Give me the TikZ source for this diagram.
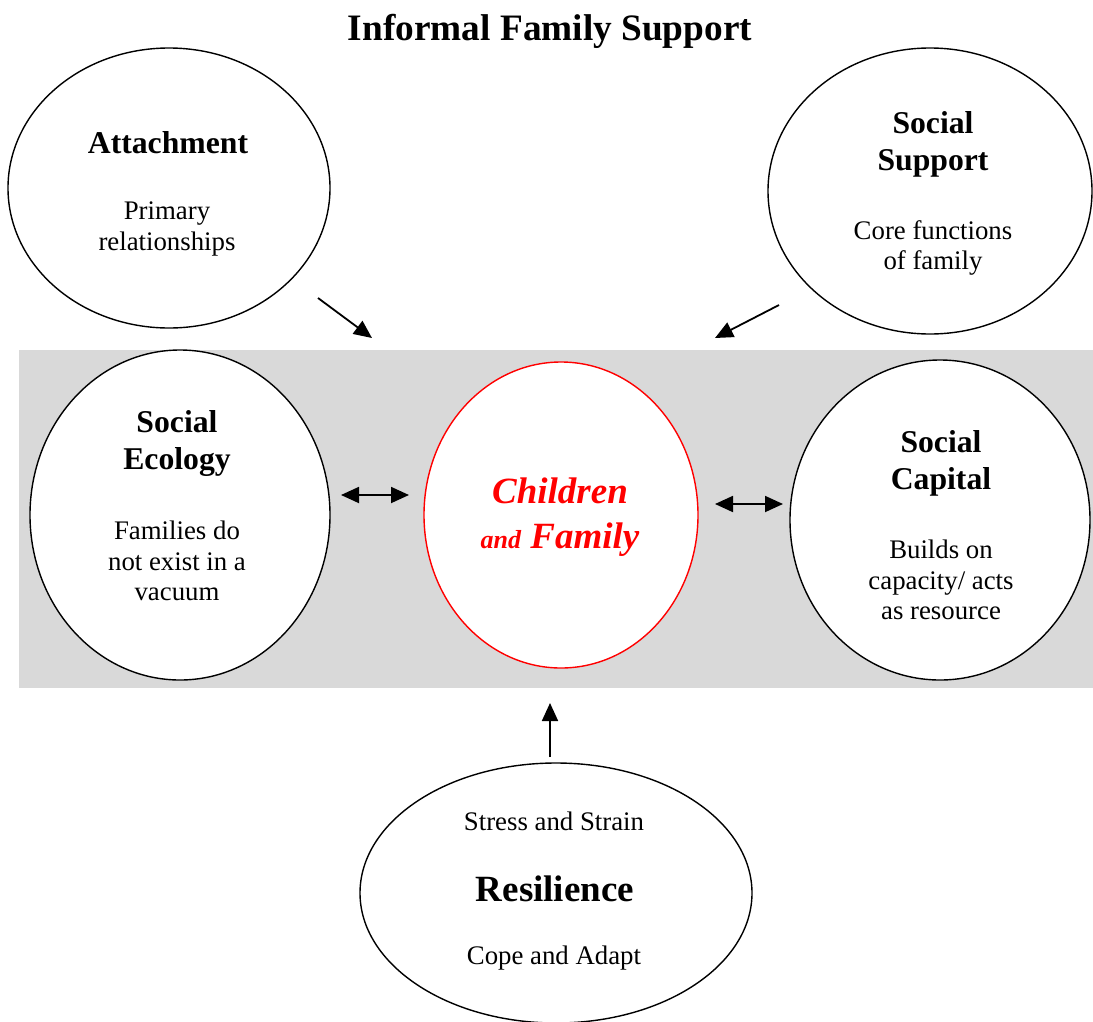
\documentclass[tikz,border=0pt]{standalone}
\usepackage{fontspec}
\setmainfont{Liberation Serif}
\usetikzlibrary{shapes.geometric}
\usetikzlibrary{arrows.meta}
\definecolor{panelgray}{HTML}{D9D9D9}
\definecolor{hotred}{HTML}{FF0000}

\tikzset{
  bubble/.style={draw, ellipse, line width=1.4pt, fill=white},
  head/.style={font=\bfseries\fontsize{31.7}{37}\selectfont, align=center},
  body/.style={font=\fontsize{26.8}{30.5}\selectfont, align=center},
  link/.style={line width=1.8pt, -{Triangle[length=18pt,width=16pt]}},
  both/.style={line width=1.8pt, {Triangle[length=18pt,width=16pt]}-{Triangle[length=18pt,width=16pt]}}
}

\begin{document}
\begin{tikzpicture}[x=1pt,y=-1pt]
    \useasboundingbox (0,0) rectangle (1093,1021);
    \fill [panelgray] (19,350) rectangle (1093,688);
    % title
    \node [font=\bfseries\fontsize{37.3}{40}\selectfont] (title) at (550,31) {Informal Family Support};
    % outer circles
    \node [bubble, minimum width=322pt, minimum height=280pt] (attach) at (169,188) {};
    \node [bubble, minimum width=324pt, minimum height=286pt] (support) at (930,191) {};
    \node [bubble, minimum width=300pt, minimum height=330pt] (ecology) at (180,515) {};
    \node [bubble, minimum width=300pt, minimum height=320pt] (capital) at (940,520) {};
    \node [bubble, minimum width=392pt, minimum height=260pt] (resil) at (556,893) {};
    \node [bubble, draw=hotred, minimum width=274pt, minimum height=306pt] (child) at (561,515) {};
    % texts
    \node [head] (attachhead) at (168,143) {Attachment};
    \node [body] (attachbody) at (167,229) {Primary\\relationships};
    \node [head] (supporthead) at (933,144) {Social\\Support};
    \node [body] (supportbody) at (933,248) {Core functions\\of family};
    \node [head] (ecologyhead) at (177,443) {Social\\Ecology};
    \node [body] (ecologybody) at (177,561) {Families do\\not exist in a\\vacuum};
    \node [head] (capitalhead) at (941,463) {Social\\Capital};
    \node [body] (capitalbody) at (941,580) {Builds on\\capacity/ acts\\as resource};
    \node [hotred, font=\bfseries\itshape\fontsize{37}{45}\selectfont, align=center] (childtext) at (560,517)
      {Children\\{\fontsize{26}{30}\selectfont and} Family};
    \node [body] (stress) at (554,821) {Stress and Strain};
    \node [font=\bfseries\fontsize{37}{40}\selectfont] (resilhead) at (555,889) {Resilience};
    \node [body] (cope) at (554,958) {Cope and Adapt};
    % arrows
    \coordinate (a1) at (318,298);
    \coordinate (a2) at (372,338);
    \coordinate (s1) at (779,305);
    \coordinate (s2) at (715,338);
    \coordinate (e1) at (341,495);
    \coordinate (e2) at (409,495);
    \coordinate (c1) at (715,504);
    \coordinate (c2) at (783,504);
    \coordinate (r1) at (550,757);
    \coordinate (r2) at (550,703);
    \draw [link] (a1) -- (a2);
    \draw [link] (s1) -- (s2);
    \draw [both] (e1) -- (e2);
    \draw [both] (c1) -- (c2);
    \draw [link] (r1) -- (r2);
  \end{tikzpicture}
\end{document}
